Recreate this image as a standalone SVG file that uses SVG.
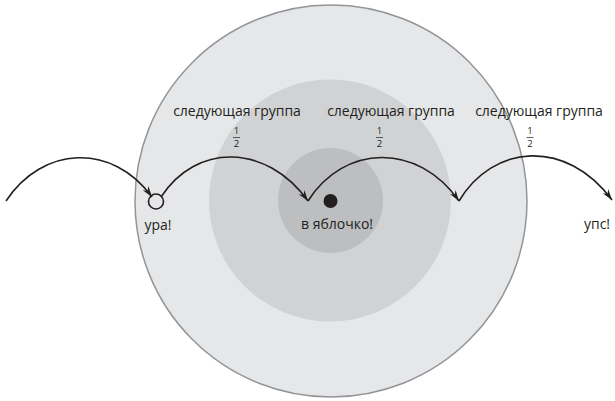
<svg xmlns="http://www.w3.org/2000/svg" width="615" height="401" viewBox="0 0 615 401">
<style>
.lbl{font-family:"Open Sans","Liberation Sans",sans-serif;font-size:14px;fill:#231f20;text-anchor:middle}
.frac{font-family:"Open Sans","Liberation Sans",sans-serif;font-size:9.5px;fill:#231f20;text-anchor:middle}
.arc{fill:none;stroke:#231f20;stroke-width:1.6}
.bar{stroke:#231f20;stroke-width:0.7}
</style>
<defs>
<marker id="ah" markerWidth="12" markerHeight="10" refX="11" refY="5" orient="auto" markerUnits="userSpaceOnUse">
<path d="M0,1.5 L11,5 L0,8.5 L3.5,5 z" fill="#231f20"/>
</marker>
</defs>
<g id="target">
<circle cx="331" cy="201" r="196" fill="#e6e7e8" stroke="#939598" stroke-width="1.5"/>
<circle cx="330" cy="200.5" r="121" fill="#d1d2d4"/>
<circle cx="330.5" cy="200.5" r="52.5" fill="#bcbec0"/>
</g>
<g id="bullseye">
<circle cx="330.5" cy="201" r="7" fill="#231f20"/>
<text class="lbl" x="337" y="229">в яблочко!</text>
</g>
<g id="hit">
<circle cx="156" cy="201.5" r="7.5" fill="none" stroke="#231f20" stroke-width="1.6"/>
<text class="lbl" x="158" y="230">ура!</text>
</g>
<g id="miss">
<text class="lbl" x="597" y="229">упс!</text>
</g>
<g id="group1">
<text class="lbl" x="237" y="116">следующая группа</text>
<text class="frac" x="236.5" y="134">1</text>
<line class="bar" x1="233" y1="137.5" x2="240" y2="137.5"/>
<text class="frac" x="236.5" y="147">2</text>
</g>
<g id="group2">
<text class="lbl" x="391" y="116">следующая группа</text>
<text class="frac" x="379.5" y="134">1</text>
<line class="bar" x1="376" y1="137.5" x2="383" y2="137.5"/>
<text class="frac" x="379.5" y="147">2</text>
</g>
<g id="group3">
<text class="lbl" x="539" y="116">следующая группа</text>
<text class="frac" x="530" y="134">1</text>
<line class="bar" x1="526.5" y1="137.5" x2="533.5" y2="137.5"/>
<text class="frac" x="530" y="147">2</text>
</g>
<g id="connectors">
<path class="arc" d="M6,201 C42,146 112,142 152,197" marker-end="url(#ah)"/>
<path class="arc" d="M161,197 C196,143 266,143 308,201" marker-end="url(#ah)"/>
<path class="arc" d="M308,201 C344,144 418,142 459,201" marker-end="url(#ah)"/>
<path class="arc" d="M459,201 C493,144 566,138 612,200" marker-end="url(#ah)"/>
</g>
</svg>
